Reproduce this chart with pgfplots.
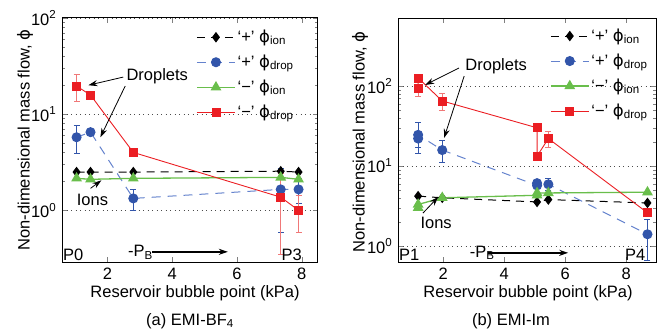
\documentclass[border=0pt]{standalone}
\usepackage{fontspec}
\setmainfont{Liberation Sans}
\newfontfamily\phifont{DejaVu Sans}
\newcommand{\PHI}{{\phifont ϕ}}
\usepackage{pgfplots}
\pgfplotsset{compat=1.18}
\usetikzlibrary{arrows.meta}
\definecolor{cblue}{RGB}{50,85,170}
\definecolor{cbluel}{RGB}{100,130,205}
\definecolor{cgreen}{RGB}{105,190,75}
\definecolor{cred}{RGB}{235,30,35}
\definecolor{credl}{RGB}{240,120,120}
\pgfplotsset{
  sion/.style={black, line width=1pt, dash pattern=on 8pt off 6pt, mark=diamond*, mark size=4.5pt, mark options={solid, fill=black}},
  sdrop/.style={cbluel, line width=1pt, dash pattern=on 9pt off 7pt, mark=*, mark size=4.5pt, mark options={solid, draw=cblue, fill=cblue},
     error bars/y dir=both, error bars/y explicit, error bars/error bar style={cblue, line width=1pt, solid},
     error bars/error mark options={rotate=90, mark size=3pt, line width=1pt, cblue, solid}},
  mion/.style={cgreen, line width=1.3pt, mark=triangle*, mark size=5pt, mark options={fill=cgreen}},
  mdrop/.style={cred, line width=0.9pt, mark=square*, mark size=4pt, mark options={fill=cred},
     error bars/y dir=both, error bars/y explicit, error bars/error bar style={credl, line width=1pt},
     error bars/error mark options={rotate=90, mark size=3pt, line width=1pt, credl}},
}
\begin{document}
\fontsize{16.5}{19}\selectfont
\begin{tikzpicture}
\useasboundingbox (0pt,0pt) rectangle (663pt,332pt);
% ---------- (a) ----------
\begin{axis}[at={(62pt,70pt)}, anchor=south west, width=256pt,
    scale only axis, ymode=log, height=244pt,
    tick align=inside, ymajorgrids,
    grid style={dash pattern=on 1pt off 3.5pt, black!70, line width=0.8pt},
    axis line style={line width=1pt},
    major tick length=5pt, minor tick length=3pt,
    ytick={1,10,100},
    yticklabels={10\textsuperscript{0},10\textsuperscript{1},10\textsuperscript{2}},
    xtick={2,4,6,8}, xticklabels={2,4,6,8},
    ticklabel style={font=\fontsize{16.5}{19}\selectfont},
    legend cell align=left,
    legend style={draw=none, fill=none, font=\fontsize{16.5}{19}\selectfont, row sep=6pt, inner sep=1pt, at={(0.52,0.965)}, anchor=north west},
    legend image code/.code={\draw[mark repeat=2,mark phase=2] plot coordinates {(0pt,0pt)(19pt,0pt)(38pt,0pt)};},
    clip=false,
  xmin=0.6, xmax=8.5, ymin=0.29, ymax=100]
\addplot+[sion] coordinates {(1.05,2.5)(1.48,2.5)(2.8,2.5)(7.35,2.55)(7.9,2.5)};
\addplot+[sdrop] coordinates {(1.05,5.75)+-(1.25,1.85)(1.48,6.5)+-(0,0)(2.8,1.33)+-(0.37,0.33)(7.35,1.65)+-(1.05,1.06)(7.9,1.65)+-(0.35,0.47)};
\addplot+[mion] coordinates {(1.05,2.15)(1.48,2.1)(2.8,2.15)(7.35,2.2)(7.9,2.1)};
\addplot+[mdrop] coordinates {(1.05,19.6)+-(5.9,6.2)(1.48,15.8)+-(0,0)(2.8,4.0)+-(0,0)(7.35,1.37)+-(0.8,1.02)(7.9,1.0)+-(0.4,0.41)};
\legend{‘+’ \PHI\textsubscript{ion}, ‘+’ \PHI\textsubscript{drop}, ‘−’ \PHI\textsubscript{ion}, ‘−’ \PHI\textsubscript{drop}}
\node at (axis cs:3.54,24.9) {Droplets};
\draw[-{Stealth[length=9pt,width=6pt]}, line width=0.8pt] (axis cs:2.49,24.3) -- (axis cs:1.415,20.0);
\draw[-{Stealth[length=9pt,width=6pt]}, line width=0.8pt] (axis cs:2.55,19.6) -- (axis cs:1.785,5.76);
\node at (axis cs:1.54,1.27) {Ions};
\draw[-{Stealth[length=9pt,width=6pt]}, line width=0.8pt] (axis cs:1.48,1.69) -- (axis cs:1.815,2.05);
\node[anchor=south west, inner sep=1pt] at (rel axis cs:0,0) {P0};
\node[anchor=south, inner sep=1pt] at (axis cs:7.69,0.29) {P3};
\node[anchor=base] at (axis cs:3.02,0.33) {-P\textsubscript{B}};
\draw[-{Stealth[length=9pt,width=6pt]}, line width=1.8pt] (axis cs:3.38,0.37) -- (axis cs:5.72,0.37);
\end{axis}
% ---------- (b) ----------
\begin{axis}[at={(398pt,70pt)}, anchor=south west, width=258pt,
    scale only axis, ymode=log, height=244pt,
    tick align=inside, ymajorgrids,
    grid style={dash pattern=on 1pt off 3.5pt, black!70, line width=0.8pt},
    axis line style={line width=1pt},
    major tick length=5pt, minor tick length=3pt,
    ytick={1,10,100},
    yticklabels={10\textsuperscript{0},10\textsuperscript{1},10\textsuperscript{2}},
    xtick={2,4,6,8}, xticklabels={2,4,6,8},
    ticklabel style={font=\fontsize{16.5}{19}\selectfont},
    legend cell align=left,
    legend style={draw=none, fill=none, font=\fontsize{16.5}{19}\selectfont, row sep=6pt, inner sep=1pt, at={(0.585,0.97)}, anchor=north west},
    legend image code/.code={\draw[mark repeat=2,mark phase=2] plot coordinates {(0pt,0pt)(19pt,0pt)(38pt,0pt)};},
    clip=false,
  xmin=0.52, xmax=8.98, ymin=0.63, ymax=708]
\addplot+[sion] coordinates {(1.18,4.2)(1.97,4.0)(5.08,3.55)(5.45,3.8)(8.7,3.45)};
\addplot+[sdrop] coordinates {(1.18,22)+-(6,5)(1.18,24.5)+-(13,10)(1.97,15.8)+-(4.2,4.8)(5.08,5.7)+-(0,0)(5.08,6.1)+-(0,0)(5.45,5.9)+-(1,1)(8.7,1.4)+-(0.4,0.75)};
\addplot+[mion] coordinates {(1.18,3.0)(1.18,3.3)(1.97,4.0)(5.08,4.3)(5.08,4.6)(5.45,4.6)(8.7,4.7)};
\addplot+[mdrop] coordinates {(1.18,94)+-(10,21)(1.18,126)+-(0,0)(1.97,65)+-(14,15)(5.08,30)+-(0,0)(5.08,13.3)+-(0,0)(5.45,22)+-(3,5)(8.7,2.6)+-(0,0)};
\legend{‘+’ \PHI\textsubscript{ion}, ‘+’ \PHI\textsubscript{drop}, ‘−’ \PHI\textsubscript{ion}, ‘−’ \PHI\textsubscript{drop}}
\node at (axis cs:3.74,178) {Droplets};
\draw[-{Stealth[length=9pt,width=6pt]}, line width=0.8pt] (axis cs:2.52,168) -- (axis cs:1.41,103);
\draw[-{Stealth[length=9pt,width=6pt]}, line width=0.8pt] (axis cs:2.69,133) -- (axis cs:2.03,22.4);
\node at (axis cs:1.77,1.95) {Ions};
\draw[-{Stealth[length=9pt,width=6pt]}, line width=0.8pt] (axis cs:1.34,2.58) -- (axis cs:1.84,4.1);
\node[anchor=south west, inner sep=1pt] at (rel axis cs:0,0) {P1};
\node[anchor=south, inner sep=1pt] at (axis cs:8.3,0.63) {P4};
\node[anchor=base] at (axis cs:3.28,0.72) {-P\textsubscript{B}};
\draw[-{Stealth[length=9pt,width=6pt]}, line width=1.8pt] (axis cs:3.48,0.82) -- (axis cs:6.1,0.82);
\end{axis}
% labels
\node at (195pt,39pt) {Reservoir bubble point (kPa)};
\node at (528pt,39pt) {Reservoir bubble point (kPa)};
\node[rotate=90] at (25pt,192pt) {Non-dimensional mass flow, \PHI};
\node[rotate=90] at (360pt,190pt) {Non-dimensional mass flow, \PHI};
\node at (190pt,11pt) {(a) EMI-BF\textsubscript{4}};
\node at (511pt,11pt) {(b) EMI-Im};
\end{tikzpicture}
\end{document}
